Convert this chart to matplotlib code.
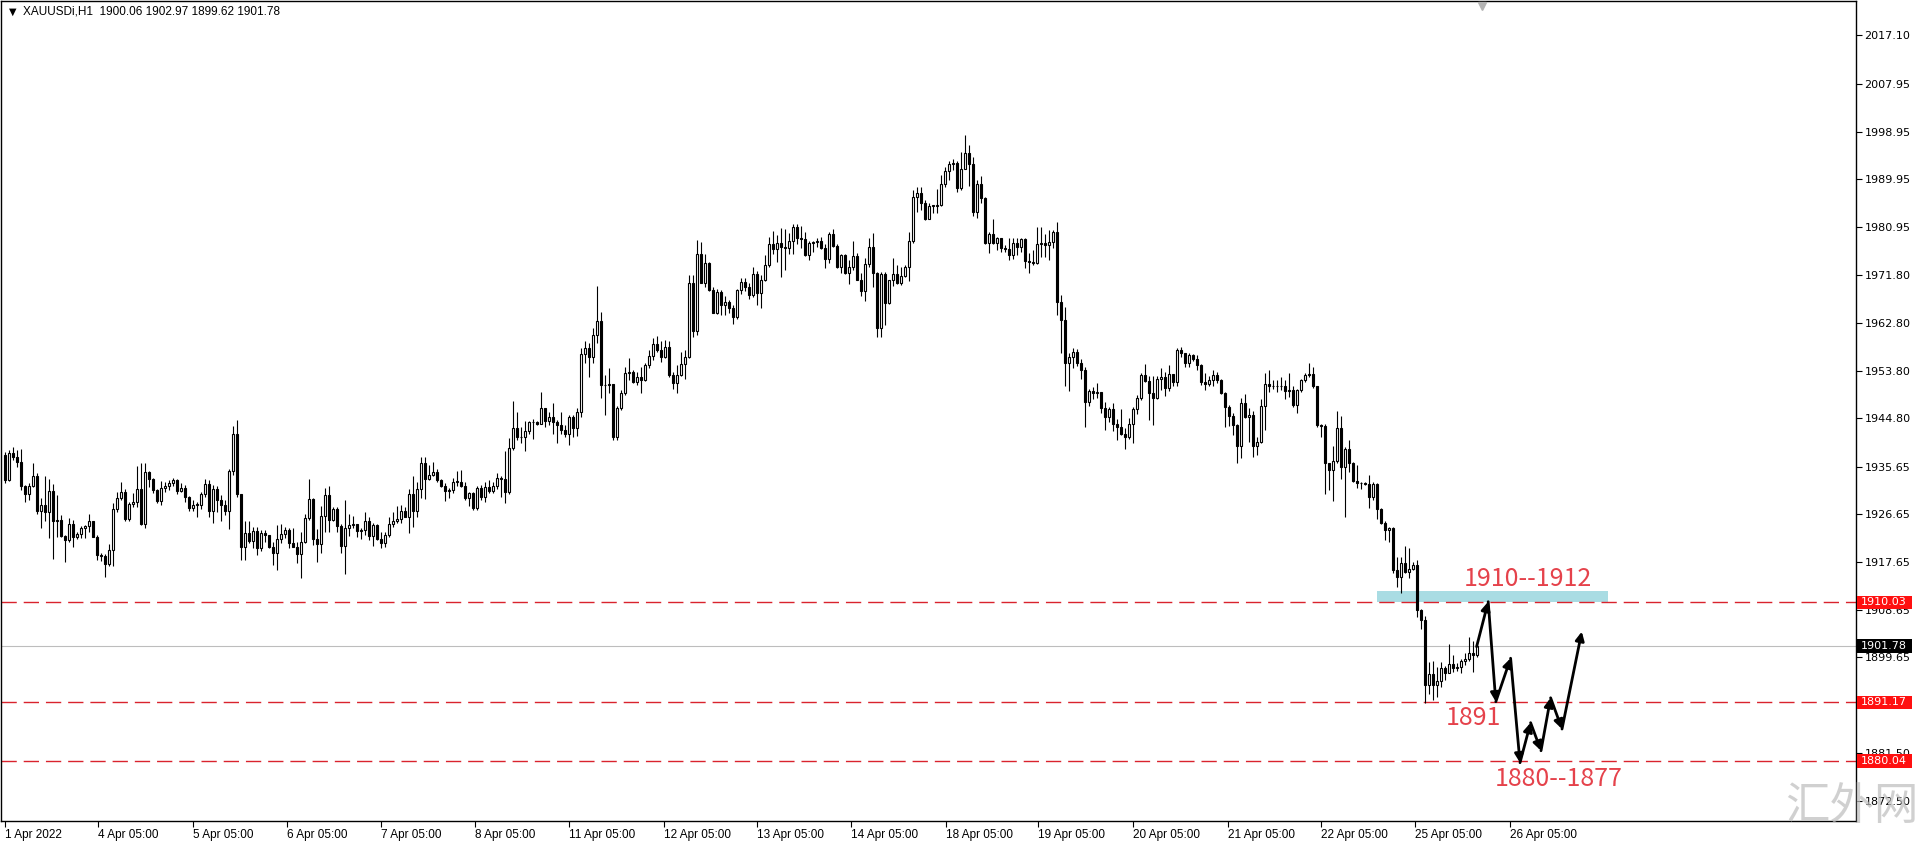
import numpy as np
import matplotlib
matplotlib.use('Agg')
import matplotlib.pyplot as plt
import matplotlib.transforms as mtransforms
from matplotlib.patches import Rectangle

# XAUUSDi H1 candles, bar 0 = 1 Apr 2022
first_open = 1937.9
close = [
    1933.1, 1938.2, 1937.4, 1936.6, 1932.0, 1930.4, 1932.0, 1933.9, 1927.2, 1928.4,
    1927.0, 1931.1, 1925.4, 1925.5, 1922.6, 1921.8, 1924.9, 1922.4, 1922.9, 1924.0,
    1924.4, 1925.3, 1922.4, 1919.0, 1918.7, 1917.3, 1919.9, 1927.7, 1929.7, 1930.9,
    1925.7, 1928.6, 1929.0, 1931.4, 1924.8, 1934.7, 1933.3, 1931.2, 1929.2, 1931.7,
    1932.0, 1932.5, 1933.1, 1931.1, 1931.7, 1930.0, 1927.9, 1928.4, 1928.4, 1930.4,
    1932.4, 1927.3, 1931.4, 1929.4, 1928.5, 1927.3, 1934.9, 1941.9, 1930.5, 1920.5,
    1923.1, 1921.7, 1923.5, 1920.2, 1923.2, 1922.7, 1920.5, 1919.4, 1921.9, 1922.9,
    1923.7, 1921.3, 1920.5, 1919.2, 1921.5, 1926.0, 1929.5, 1921.9, 1921.0, 1926.3,
    1930.3, 1925.6, 1927.6, 1924.4, 1920.7, 1924.0, 1924.6, 1924.9, 1923.5, 1923.6,
    1925.3, 1922.6, 1924.6, 1921.9, 1921.3, 1922.7, 1924.8, 1925.3, 1925.8, 1927.3,
    1926.2, 1930.5, 1927.3, 1931.4, 1936.3, 1933.3, 1934.1, 1934.7, 1933.1, 1932.0,
    1931.1, 1931.3, 1932.8, 1932.8, 1932.0, 1929.8, 1930.7, 1927.9, 1931.7, 1929.9,
    1931.9, 1931.1, 1932.0, 1933.6, 1933.3, 1930.9, 1939.2, 1942.9, 1941.3, 1941.2,
    1942.3, 1944.0, 1944.0, 1943.7, 1946.7, 1944.3, 1945.1, 1944.1, 1943.5, 1942.6,
    1941.9, 1945.1, 1942.9, 1945.9, 1956.9, 1958.0, 1956.3, 1960.5, 1963.2, 1951.1,
    1951.0, 1951.3, 1941.2, 1946.7, 1949.5, 1953.4, 1953.5, 1951.7, 1952.5, 1952.1,
    1954.9, 1956.6, 1958.9, 1957.7, 1956.4, 1958.3, 1953.0, 1951.4, 1953.0, 1955.0,
    1956.4, 1970.3, 1961.2, 1975.9, 1970.4, 1974.1, 1969.1, 1964.7, 1968.7, 1966.2,
    1966.8, 1965.7, 1964.0, 1969.1, 1970.6, 1969.6, 1968.0, 1972.0, 1968.5, 1971.0,
    1973.7, 1977.7, 1976.7, 1977.9, 1977.2, 1976.9, 1978.3, 1981.0, 1978.8, 1978.6,
    1975.6, 1977.9, 1978.1, 1978.3, 1976.9, 1974.8, 1979.6, 1977.3, 1973.4, 1975.6,
    1972.2, 1973.4, 1975.4, 1971.0, 1968.9, 1974.0, 1977.1, 1972.3, 1961.8, 1972.0,
    1966.6, 1970.9, 1972.0, 1970.3, 1971.7, 1973.4, 1978.3, 1986.6, 1987.3, 1985.4,
    1982.4, 1984.9, 1984.9, 1985.1, 1989.0, 1991.4, 1992.9, 1993.0, 1988.2, 1991.8,
    1994.9, 1992.8, 1983.8, 1989.0, 1986.3, 1977.9, 1979.6, 1977.9, 1978.8, 1976.9,
    1976.8, 1975.6, 1977.9, 1977.1, 1978.6, 1974.5, 1974.4, 1974.2, 1977.8, 1977.9,
    1977.5, 1978.1, 1980.0, 1966.8, 1963.4, 1955.2, 1956.4, 1957.4, 1955.2, 1953.9,
    1947.9, 1950.0, 1949.6, 1949.7, 1946.7, 1945.0, 1946.5, 1943.7, 1943.1, 1941.9,
    1941.2, 1943.7, 1946.5, 1948.6, 1953.0, 1951.9, 1949.6, 1948.7, 1952.3, 1952.5,
    1950.6, 1953.1, 1951.7, 1957.7, 1957.2, 1955.3, 1956.7, 1955.9, 1954.8, 1951.7,
    1951.3, 1952.0, 1953.0, 1952.1, 1949.5, 1947.0, 1945.2, 1943.5, 1939.6, 1947.6,
    1945.0, 1945.4, 1939.6, 1940.4, 1947.1, 1951.3, 1950.9, 1950.8, 1950.9, 1950.8,
    1950.0, 1950.2, 1947.3, 1950.1, 1952.0, 1953.0, 1953.1, 1950.8, 1943.5, 1943.4,
    1936.3, 1935.1, 1936.8, 1942.9, 1935.6, 1938.9, 1936.3, 1933.0, 1932.6, 1932.5,
    1932.4, 1930.0, 1932.4, 1927.6, 1925.1, 1923.7, 1924.0, 1916.1, 1914.9, 1917.4,
    1915.8, 1916.3, 1917.1, 1908.6, 1906.6, 1894.4, 1896.5, 1894.4, 1895.2, 1897.6,
    1896.7, 1898.4, 1897.6, 1897.9, 1899.0, 1899.3, 1900.5, 1900.06, 1901.78,
]
high = [
    1938.5, 1938.8, 1939.3, 1938.8, 1938.9, 1932.2, 1932.6, 1936.4, 1934.5, 1929.7,
    1933.8, 1933.3, 1932.3, 1930.3, 1926.5, 1922.7, 1925.9, 1925.6, 1923.4, 1924.4,
    1924.6, 1926.7, 1925.4, 1922.8, 1919.3, 1919.2, 1921.0, 1928.7, 1930.9, 1932.8,
    1931.4, 1929.0, 1930.6, 1935.8, 1936.4, 1936.3, 1934.9, 1933.6, 1931.4, 1932.9,
    1932.8, 1933.1, 1933.6, 1933.3, 1932.5, 1932.2, 1930.2, 1929.4, 1929.0, 1930.9,
    1933.3, 1933.1, 1932.2, 1932.0, 1930.3, 1929.4, 1935.3, 1943.3, 1944.5, 1930.5,
    1925.3, 1925.3, 1924.3, 1924.3, 1923.7, 1923.7, 1922.7, 1921.5, 1924.6, 1924.9,
    1924.3, 1924.0, 1924.0, 1921.5, 1923.4, 1926.8, 1933.3, 1929.7, 1923.8, 1928.2,
    1931.6, 1932.0, 1928.1, 1928.1, 1924.9, 1929.4, 1926.8, 1926.3, 1924.3, 1924.0,
    1927.1, 1926.2, 1925.1, 1924.9, 1923.4, 1923.4, 1926.2, 1927.0, 1928.2, 1928.4,
    1928.1, 1931.4, 1933.9, 1932.8, 1937.4, 1937.5, 1936.0, 1936.6, 1935.3, 1933.4,
    1932.5, 1931.6, 1933.6, 1934.9, 1935.1, 1932.8, 1930.9, 1930.9, 1932.0, 1932.2,
    1932.8, 1933.1, 1932.8, 1934.4, 1933.8, 1938.7, 1941.0, 1948.0, 1945.9, 1943.2,
    1944.3, 1944.3, 1944.6, 1944.2, 1949.7, 1946.8, 1946.0, 1947.6, 1944.5, 1945.9,
    1943.5, 1945.4, 1945.4, 1946.7, 1958.0, 1959.3, 1959.1, 1961.8, 1969.8, 1964.9,
    1952.9, 1954.2, 1951.3, 1947.1, 1950.1, 1954.5, 1956.2, 1953.9, 1953.6, 1954.5,
    1955.2, 1957.7, 1959.9, 1960.3, 1959.3, 1959.6, 1959.3, 1953.6, 1954.8, 1957.4,
    1957.6, 1971.8, 1971.8, 1978.5, 1978.0, 1975.9, 1974.4, 1969.6, 1969.3, 1969.0,
    1967.8, 1967.1, 1966.2, 1969.3, 1971.2, 1971.2, 1970.4, 1973.4, 1972.7, 1971.8,
    1975.6, 1979.1, 1980.2, 1979.4, 1980.7, 1980.5, 1979.7, 1981.5, 1981.5, 1981.1,
    1980.0, 1978.3, 1978.2, 1978.8, 1979.1, 1977.8, 1980.0, 1980.5, 1977.7, 1975.9,
    1975.9, 1974.7, 1978.3, 1976.0, 1972.2, 1975.0, 1978.8, 1979.7, 1972.5, 1972.5,
    1972.5, 1971.0, 1975.0, 1973.7, 1973.3, 1973.7, 1980.0, 1987.9, 1988.5, 1988.5,
    1986.0, 1985.4, 1985.1, 1988.0, 1990.7, 1992.3, 1993.4, 1993.7, 1993.3, 1995.1,
    1998.3, 1996.4, 1994.2, 1989.7, 1990.5, 1986.6, 1980.0, 1982.4, 1979.1, 1978.1,
    1977.5, 1978.9, 1978.8, 1978.8, 1978.9, 1978.8, 1976.0, 1976.6, 1981.0, 1981.0,
    1979.6, 1980.3, 1980.3, 1981.9, 1968.1, 1965.9, 1957.1, 1958.0, 1957.8, 1955.9,
    1954.4, 1950.3, 1950.7, 1951.4, 1949.8, 1947.9, 1946.9, 1947.7, 1944.6, 1946.5,
    1942.9, 1944.8, 1947.0, 1949.2, 1953.4, 1955.0, 1952.8, 1952.8, 1952.8, 1954.2,
    1953.6, 1954.8, 1952.6, 1958.0, 1958.3, 1957.1, 1957.1, 1957.0, 1956.7, 1955.1,
    1953.4, 1952.8, 1954.0, 1953.6, 1952.3, 1949.8, 1947.3, 1945.7, 1943.8, 1948.7,
    1949.4, 1946.7, 1946.2, 1941.3, 1948.4, 1953.3, 1953.9, 1952.0, 1952.1, 1952.6,
    1952.0, 1953.4, 1950.8, 1950.4, 1952.3, 1953.3, 1955.3, 1954.5, 1950.9, 1943.8,
    1943.8, 1936.4, 1939.5, 1946.2, 1945.2, 1939.3, 1940.7, 1936.6, 1935.9, 1932.8,
    1932.8, 1934.0, 1932.8, 1932.6, 1927.8, 1925.4, 1924.3, 1924.2, 1918.6, 1918.5,
    1920.7, 1920.2, 1917.7, 1918.0, 1908.7, 1907.4, 1898.8, 1899.0, 1897.9, 1898.8,
    1898.0, 1902.2, 1900.1, 1898.6, 1899.4, 1900.4, 1903.4, 1902.8, 1902.97,
]
low = [
    1932.5, 1933.0, 1937.0, 1935.6, 1931.2, 1929.0, 1929.4, 1931.8, 1926.8, 1924.0,
    1925.3, 1922.1, 1918.3, 1922.4, 1922.4, 1917.7, 1921.5, 1920.5, 1921.9, 1922.1,
    1922.1, 1923.4, 1922.3, 1918.1, 1917.9, 1914.9, 1916.8, 1916.8, 1927.1, 1929.4,
    1925.4, 1925.3, 1928.1, 1928.1, 1924.6, 1924.1, 1931.9, 1930.6, 1928.7, 1928.4,
    1930.9, 1931.2, 1932.0, 1930.5, 1930.9, 1929.0, 1927.3, 1927.3, 1926.2, 1927.6,
    1930.0, 1926.2, 1925.1, 1927.1, 1925.4, 1926.5, 1923.8, 1934.1, 1930.0, 1918.1,
    1918.0, 1921.2, 1920.2, 1919.0, 1919.8, 1921.5, 1920.2, 1917.1, 1916.1, 1921.2,
    1922.1, 1920.2, 1920.5, 1917.5, 1914.7, 1921.2, 1925.6, 1920.9, 1917.7, 1919.3,
    1923.4, 1923.4, 1925.3, 1923.4, 1919.4, 1915.4, 1922.6, 1924.0, 1922.4, 1921.9,
    1922.7, 1921.8, 1920.7, 1921.8, 1920.2, 1920.5, 1922.4, 1924.3, 1925.0, 1925.1,
    1926.1, 1923.2, 1924.2, 1926.2, 1929.7, 1929.5, 1933.1, 1933.8, 1932.8, 1931.9,
    1929.2, 1929.8, 1930.6, 1932.0, 1931.9, 1929.4, 1928.2, 1927.5, 1927.5, 1929.4,
    1929.0, 1930.6, 1930.7, 1931.4, 1930.0, 1928.7, 1930.5, 1938.8, 1940.7, 1940.2,
    1938.7, 1941.8, 1940.8, 1943.5, 1944.8, 1943.1, 1943.5, 1941.9, 1940.1, 1941.9,
    1941.2, 1939.7, 1941.3, 1941.4, 1945.1, 1955.3, 1952.6, 1955.3, 1959.1, 1948.7,
    1945.4, 1949.5, 1940.7, 1940.7, 1946.4, 1949.2, 1952.0, 1951.5, 1951.1, 1949.6,
    1951.9, 1954.2, 1955.8, 1957.4, 1955.5, 1956.1, 1952.6, 1950.4, 1949.5, 1952.7,
    1952.3, 1956.1, 1960.2, 1960.5, 1970.3, 1969.6, 1968.9, 1964.6, 1964.5, 1964.3,
    1964.3, 1964.7, 1962.6, 1963.5, 1968.2, 1968.9, 1967.4, 1967.7, 1966.2, 1965.6,
    1970.8, 1973.4, 1975.9, 1974.4, 1971.5, 1972.8, 1975.9, 1975.8, 1977.7, 1976.9,
    1975.4, 1974.6, 1976.2, 1977.2, 1976.7, 1973.1, 1974.2, 1977.2, 1973.1, 1972.3,
    1972.0, 1970.1, 1972.8, 1970.9, 1967.9, 1967.0, 1973.4, 1969.6, 1960.2, 1960.2,
    1962.4, 1966.4, 1969.8, 1970.1, 1970.0, 1971.4, 1970.8, 1977.9, 1983.8, 1984.1,
    1982.2, 1982.4, 1983.5, 1983.5, 1984.8, 1988.4, 1989.8, 1991.7, 1987.6, 1987.9,
    1991.8, 1988.7, 1982.9, 1982.7, 1985.4, 1977.7, 1976.1, 1977.8, 1976.6, 1976.2,
    1976.2, 1974.7, 1974.8, 1975.6, 1976.2, 1973.1, 1972.3, 1973.7, 1974.0, 1975.2,
    1975.2, 1974.7, 1976.9, 1964.3, 1957.1, 1950.9, 1950.0, 1954.2, 1954.7, 1952.3,
    1943.2, 1947.1, 1948.4, 1948.7, 1945.7, 1942.6, 1944.1, 1942.3, 1940.7, 1941.6,
    1938.9, 1940.8, 1940.1, 1945.6, 1948.2, 1951.7, 1944.5, 1943.5, 1948.5, 1950.1,
    1949.0, 1950.0, 1950.8, 1950.8, 1956.4, 1954.5, 1954.4, 1955.7, 1954.0, 1951.1,
    1950.1, 1950.8, 1950.8, 1951.4, 1949.4, 1943.2, 1943.3, 1941.6, 1936.4, 1937.2,
    1944.9, 1940.4, 1937.5, 1937.9, 1940.1, 1942.6, 1949.8, 1950.3, 1949.8, 1950.1,
    1948.4, 1948.9, 1947.0, 1945.7, 1949.8, 1951.7, 1952.6, 1950.6, 1943.2, 1941.2,
    1930.5, 1931.2, 1929.2, 1936.4, 1933.3, 1926.2, 1934.7, 1932.8, 1931.6, 1931.4,
    1932.2, 1927.8, 1929.4, 1925.7, 1924.9, 1921.8, 1921.5, 1915.6, 1913.0, 1911.7,
    1915.5, 1914.7, 1916.1, 1907.3, 1904.9, 1891.1, 1892.7, 1891.6, 1892.2, 1894.1,
    1895.4, 1896.7, 1896.9, 1897.1, 1896.7, 1898.2, 1899.0, 1896.9, 1899.62,
]

# time axis (positions in bars) and price axis
date_pos = [0, 23.25, 46.98, 70.4, 93.95, 117.5, 141.1, 164.7, 188.1, 211.5,
            235.2, 258.35, 282.1, 305.65, 329.05, 352.6, 376.2]
date_labels = ['1 Apr 2022', '4 Apr 05:00', '5 Apr 05:00', '6 Apr 05:00', '7 Apr 05:00',
               '8 Apr 05:00', '11 Apr 05:00', '12 Apr 05:00', '13 Apr 05:00', '14 Apr 05:00',
               '18 Apr 05:00', '19 Apr 05:00', '20 Apr 05:00', '21 Apr 05:00', '22 Apr 05:00',
               '25 Apr 05:00', '26 Apr 05:00']
price_ticks = [2017.10, 2007.95, 1998.95, 1989.95, 1980.95, 1971.80, 1962.80, 1953.80,
               1944.80, 1935.65, 1926.65, 1917.65, 1908.65, 1899.65, 1890.65, 1881.50, 1872.50]

# drawn objects
levels = [1910.03, 1891.17, 1880.04]
last_price = 1901.78
zone_lo, zone_hi = 1910.0, 1912.2
zone_start, zone_end = 342.9, 400.8
path_x = [367.9, 370.8, 372.7, 376.4, 378.75, 381.4, 384.0, 386.4, 389.25, 394.2]
path_y = [1901.65, 1910.15, 1891.26, 1899.47, 1879.74, 1887.3, 1882.0, 1892.0, 1886.1, 1904.5]
notes = ['1910--1912', '1891', '1880--1877']
note_x = [380.6, 367.1, 388.4]
note_y = [1914.4, 1888.1, 1876.7]

W, H = 1920, 842
fig = plt.figure(figsize=(W / 100, H / 100), dpi=100)
ax = fig.add_axes([1 / W, 21 / H, 1855 / W, 820 / H])
ax.set_xlim(-1.0, 462.75)
ax.set_ylim(1868.73, 2023.60)

c = np.array(close)
o = np.r_[first_open, c[:-1]]
o[-1] = 1900.06
hi = np.maximum(np.array(high), np.maximum(o, c))
lo = np.minimum(np.array(low), np.minimum(o, c))
x = np.arange(len(c))
up = c >= o
bottom = np.minimum(o, c)
body = np.maximum(np.abs(c - o), 0.12)

# zone behind the candles
ax.add_patch(Rectangle((zone_start, zone_lo), zone_end - zone_start, zone_hi - zone_lo,
                       facecolor='#a9dce3', edgecolor='none', zorder=1))

ax.vlines(x, lo, hi, color='black', linewidth=0.8, zorder=3)
ax.bar(x[up], body[up], bottom=bottom[up], width=0.6, facecolor='white',
       edgecolor='black', linewidth=0.8, zorder=4)
ax.bar(x[~up], body[~up], bottom=bottom[~up], width=0.6, facecolor='black',
       edgecolor='black', linewidth=0.8, zorder=4)

# price lines
ax.axhline(last_price, color='#bdbdbd', linewidth=0.8, zorder=2)
for p in levels:
    ax.axhline(p, color='#d9232d', linewidth=1.0, dashes=(11, 5), zorder=2)

# hand drawn path of arrows
for k in range(len(path_x) - 1):
    ax.annotate('', xy=(path_x[k + 1], path_y[k + 1]), xytext=(path_x[k], path_y[k]),
                arrowprops=dict(arrowstyle='-|>', color='black', lw=2.0,
                                mutation_scale=13, shrinkA=0, shrinkB=0), zorder=6)

for t, tx, ty in zip(notes, note_x, note_y):
    ax.text(tx, ty, t, color='#e5424b', fontsize=18, ha='center', va='center',
            family=['Noto Sans CJK SC', 'DejaVu Sans'], zorder=7)

# axes styling like MT4
for s in ax.spines.values():
    s.set_color('black')
    s.set_linewidth(1.0)
ax.yaxis.tick_right()
ax.set_yticks(price_ticks)
ax.set_yticklabels([f'{p:.2f}' for p in price_ticks])
ax.tick_params(axis='y', direction='out', length=4, width=0.8, pad=2, labelsize=8)
ax.set_xticks(date_pos)
ax.set_xticklabels(date_labels, ha='left', family='Liberation Sans', fontsize=8.5)
ax.tick_params(axis='x', direction='out', length=4, width=0.8, pad=2)

# price label boxes on the scale
tb = mtransforms.blended_transform_factory(fig.transFigure, ax.transData)
for p, col in [(levels[0], '#ff1010'), (levels[1], '#ff1010'), (levels[2], '#ff1010'),
               (last_price, 'black')]:
    ax.add_patch(Rectangle((1857 / W, p - 1.25), 55 / W, 2.5, transform=tb,
                           facecolor=col, edgecolor='none', clip_on=False, zorder=10))
    ax.text(1861 / W, p, f'{p:.2f}', transform=tb, color='white', fontsize=8,
            ha='left', va='center', zorder=11)

# shift marker at the top
ax.plot([369.3], [2022.7], marker='v', color='#b4b4b4', markersize=6, clip_on=False, zorder=8)

fig.text(9 / W, 1 - 12 / H, '\u25bc', fontsize=7, va='center', family='DejaVu Sans')
fig.text(23 / W, 1 - 12 / H, 'XAUUSDi,H1  1900.06 1902.97 1899.62 1901.78',
         fontsize=8.5, va='center', family='Liberation Sans')

# site watermark, sits over the bottom right corner as in the screenshot
fig.text(1852 / W, 1 - 806 / H, '汇外网', fontsize=32, color='#bdbdbd', alpha=0.7,
         ha='center', va='center', family=['Noto Sans CJK SC', 'DejaVu Sans'], zorder=20)

fig.savefig('out.png', dpi=100)
